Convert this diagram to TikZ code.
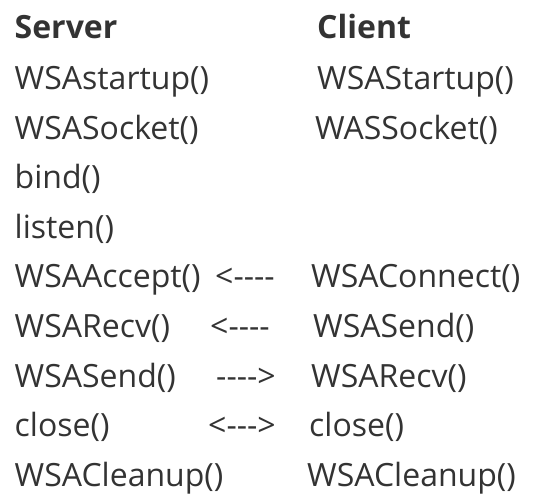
\documentclass[tikz,border=0pt]{standalone}
\usepackage{fontspec}
\setmainfont{Open Sans}
\usepackage{xcolor}
\usepackage{tikz}
\usetikzlibrary{positioning}

\definecolor{ink}{HTML}{333333}
% hyphen kept apart so that -- does not become a dash
\newcommand{\hy}{\mbox{-}}

\begin{document}
\begin{tikzpicture}[x=1pt, y=-1pt]
    % Define styles
    \tikzset{
        label/.style={inner sep=0pt, anchor=base west, text=ink, font=\fontsize{32}{32}\selectfont},
        head/.style={label, font=\fontsize{32}{32}\selectfont\bfseries},
        call/.style={label},
        flow/.style={label}
    }
    \useasboundingbox (0,0) rectangle (534,502);

    % Headers
    \node[head] (server) at (14.5,39) {Server};
    \node[head] (client) at (317,39) {Client};

    % Server side
    \node[call] (sstartup) at (14.5,89.5) {WSAstartup()};
    \node[call] (ssocket) at (14.5,139.1) {WSASocket()};
    \node[call] (sbind) at (14.5,188.7) {bind()};
    \node[call] (slisten) at (14.5,238.3) {listen()};
    \node[call] (saccept) at (14.5,287.9) {WSAAccept()};
    \node[call] (srecv) at (14.5,337.5) {WSARecv()};
    \node[call] (ssend) at (14.5,387.1) {WSASend()};
    \node[call] (sclose) at (14.5,436.7) {close()};
    \node[call] (scleanup) at (14.5,486.3) {WSACleanup()};

    % Client side
    \node[call] (cstartup) at (317,89.5) {WSAStartup()};
    \node[call] (csocket) at (315,139.1) {WASSocket()};
    \node[call] (cconnect) at (311,287.9) {WSAConnect()};
    \node[call] (csend) at (313,337.5) {WSASend()};
    \node[call] (crecv) at (311,387.1) {WSARecv()};
    \node[call] (cclose) at (309,436.7) {close()};
    \node[call] (ccleanup) at (307,486.3) {WSACleanup()};

    % Arrows typed as text
    \node[flow] (aconnect) at (215,287.9) {<\hy\hy\hy\hy};
    \node[flow] (asend) at (210,337.5) {<\hy\hy\hy\hy};
    \node[flow] (arecv) at (216,387.1) {\hy\hy\hy\hy>};
    \node[flow] (aclose) at (208,436.7) {<\hy\hy\hy>};
\end{tikzpicture}
\end{document}
